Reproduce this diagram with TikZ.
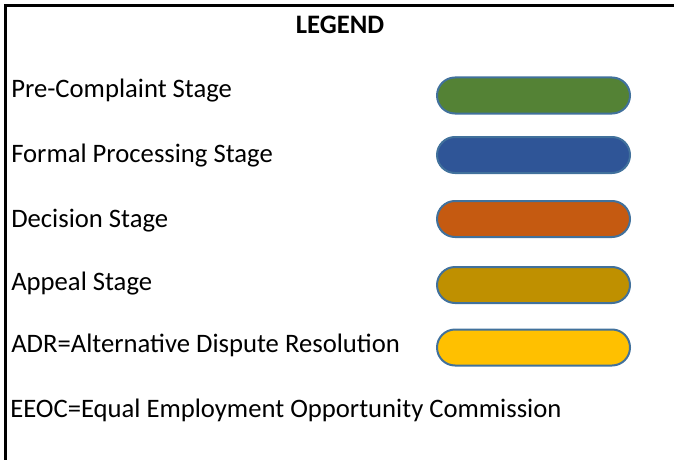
\documentclass[tikz,border=0pt]{standalone}
\usepackage{fontspec}
\setmainfont{Carlito}
\usetikzlibrary{shapes.misc}
\definecolor{cgreen}{HTML}{548235}
\definecolor{cblue}{HTML}{2F5597}
\definecolor{corange}{HTML}{C55A11}
\definecolor{cgold}{HTML}{BF9000}
\definecolor{cyellow}{HTML}{FFC000}
\definecolor{cedge}{HTML}{41719C}
\begin{document}
\begin{tikzpicture}[x=0.75pt,y=-0.75pt,
  lbl/.style={anchor=base west,inner sep=0pt,font=\fontsize{20}{24}\selectfont},
  pill/.style={rounded rectangle,draw=cedge,line width=1.5pt,minimum width=144.75pt,minimum height=27pt,inner sep=0pt},
  frame/.style={line width=2.25pt,black}]
\useasboundingbox (0,0) rectangle (674,460);
\draw[frame] (5.5,460) -- (5.5,5.5) -- (674,5.5);
\node[anchor=base,inner sep=0pt,font=\fontsize{20}{24}\selectfont\bfseries] (title) at (340,34) {LEGEND};
\node[lbl] (t1) at (11,97) {Pre-Complaint Stage};
\node[lbl] (t2) at (11,162) {Formal Processing Stage};
\node[lbl] (t3) at (11,227) {Decision Stage};
\node[lbl] (t4) at (11,290) {Appeal Stage};
\node[lbl] (t5) at (11,352) {ADR=Alternative Dispute Resolution};
\node[lbl] (t6) at (10,417) {EEOC=Equal Employment Opportunity Commission};
\node[pill,fill=cgreen] (p1) at (533.5,95.5) {};
\node[pill,fill=cblue] (p2) at (533.5,155) {};
\node[pill,fill=corange] (p3) at (533.5,219) {};
\node[pill,fill=cgold] (p4) at (533.5,285) {};
\node[pill,fill=cyellow] (p5) at (533.5,347.5) {};
\end{tikzpicture}
\end{document}
